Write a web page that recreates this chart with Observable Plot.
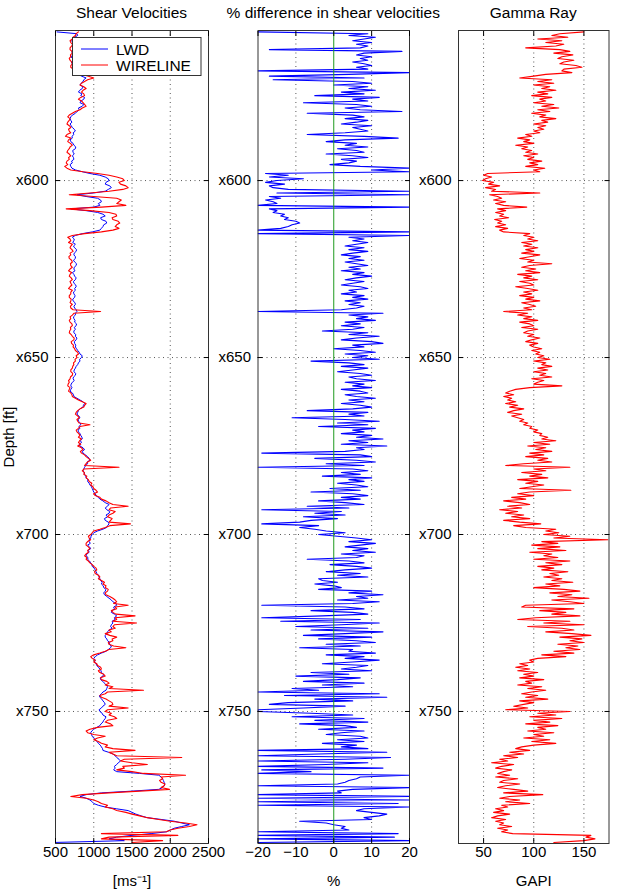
<!DOCTYPE html>
<html><head><meta charset="utf-8">
<script src="https://cdn.jsdelivr.net/npm/d3@7"></script>
<script src="https://cdn.jsdelivr.net/npm/@observablehq/plot@0.6"></script>
<style>
body{margin:0;background:#fff;}
#wrap{position:relative;width:618px;height:890px;font-family:"Liberation Sans",Arial,Helvetica,sans-serif;overflow:hidden;}
.title{position:absolute;top:4px;width:300px;height:18px;line-height:18px;font-size:15.5px;text-align:center;white-space:nowrap;color:#000;}
</style></head><body><div id="wrap"></div>
<script>
// ---------- data ----------
const depth = d3.range(558, 787.5, 0.5); // ft, 0.5 ft sampling (558 .. 787)
const titles = ["Shear Velocities", "% difference in shear velocities", "Gamma Ray"];
const seriesNames = ["LWD", "WIRELINE"];
const depthTicks = [600, 650, 700, 750];
const velTicks = [500, 1000, 1500, 2000, 2500];
const diffTicks = [-20, -10, 0, 10, 20];
const grTicks = [50, 100, 150];
const zeroLine = [0];

// LWD shear velocity (m/s)
const lwd = [
520,780,790,750,760,710,730,745,720,735,
740,715,720,735,700,725,730,705,720,745,
740,725,760,790,800,840,900,870,860,835,
820,860,850,815,800,845,830,880,870,835,
820,870,850,800,810,780,760,720,700,690,
700,715,690,705,720,745,760,730,740,715,
720,690,700,730,740,765,760,725,730,745,
720,735,740,710,720,690,700,715,760,850,
950,1080,1150,1190,1200,1160,1150,1210,1230,1190,
1150,1000,780,900,1050,1090,1100,1060,1080,1000,
700,900,1050,1120,1150,1090,1100,1160,1170,1130,
1120,1100,1080,980,850,760,720,745,740,725,
760,735,750,775,770,745,740,760,760,735,
750,775,770,745,740,755,720,740,750,770,
760,735,740,765,770,750,760,735,740,755,
750,725,730,755,760,740,750,770,780,760,
760,735,740,755,750,775,770,745,760,740,
740,765,760,780,770,745,750,765,760,775,
790,810,820,850,840,815,820,800,790,770,
760,745,740,765,760,735,730,745,720,705,
700,715,700,690,720,735,740,780,820,860,
880,865,860,820,800,790,780,805,820,795,
800,825,830,805,820,795,800,820,830,845,
850,825,840,810,820,860,880,850,860,890,
920,940,950,915,920,895,880,870,860,875,
880,895,900,925,920,940,950,970,980,990,
1000,1020,1030,1060,1080,1120,1150,1200,1180,1150,
1170,1210,1200,1160,1180,1140,1150,1190,1200,1180,
1170,1120,1050,1000,980,965,960,940,940,955,
920,945,960,930,940,910,900,925,920,945,
960,975,980,1005,1020,1030,1040,1060,1070,1080,
1090,1110,1100,1125,1130,1160,1150,1130,1140,1170,
1200,1230,1250,1290,1300,1260,1270,1240,1230,1270,
1300,1270,1280,1240,1250,1230,1220,1240,1200,1180,
1170,1150,1150,1170,1180,1210,1200,1230,1220,1190,
1160,1100,1050,1020,1000,1020,1010,1030,1040,1060,
1080,1095,1100,1130,1120,1085,1090,1120,1140,1160,
1180,1170,1160,1120,1100,1075,1080,1105,1120,1140,
1150,1120,1100,1070,1080,1110,1120,1160,1150,1130,
1120,1095,1080,1040,1000,975,960,970,980,1000,
1020,1045,1060,1085,1100,1115,1120,1190,1250,1280,
1300,1330,1350,1320,1300,1270,1280,1260,1300,1600,
1850,1880,1900,1910,1920,1930,1920,1900,1850,1500,
1100,900,820,900,950,980,1000,1060,1150,1300,
1450,1500,1550,1620,1700,1880,2050,2150,2250,2150,
2050,2000,1950,1750,1500,1300,1200,1400,500
];

// WIRELINE shear velocity (m/s)
const wireline = [
800,770,760,730,720,690,700,725,710,690,
690,715,720,695,700,680,690,710,720,700,
700,730,760,800,850,930,1000,920,880,840,
820,870,900,860,840,870,880,830,800,840,
860,880,900,850,820,760,720,680,660,690,
680,660,650,680,700,670,680,700,650,630,
700,670,660,695,720,690,680,660,650,680,
700,670,680,650,640,660,620,650,700,860,
1050,1200,1300,1380,1400,1330,1350,1420,1450,1380,
1200,950,680,1000,1300,1360,1330,1300,1420,1100,
640,950,1200,1290,1300,1240,1250,1320,1340,1300,
1280,1330,1250,1100,880,720,660,690,700,670,
720,700,690,715,730,690,700,675,680,710,
720,695,700,720,690,670,710,690,680,705,
720,690,700,715,690,670,720,700,700,680,
680,705,700,690,720,695,700,730,1090,740,
720,690,700,680,690,715,720,695,700,685,
680,705,720,745,740,705,710,735,730,750,
760,790,800,770,780,755,760,735,740,725,
720,700,700,725,720,695,690,670,680,665,
660,690,680,670,700,715,720,760,800,850,
900,880,870,820,790,770,760,790,810,780,
790,810,950,820,800,770,780,805,820,800,
840,815,800,830,790,840,860,825,840,880,
900,930,960,920,900,880,1330,870,850,880,
870,910,900,930,940,975,960,990,1000,1030,
1050,1000,1020,1080,1100,1160,1200,1250,1450,1220,
1200,1280,1250,1200,1180,1240,1220,1200,1480,1210,
1150,1080,1000,980,960,930,940,960,920,900,
900,930,950,920,930,900,880,910,900,930,
950,980,1000,1030,1040,1010,1020,1060,1080,1060,
1100,1140,1120,1160,1150,1190,1180,1150,1160,1210,
1250,1280,1300,1260,1450,1280,1300,1230,1250,1290,
1540,1280,1300,1250,1560,1270,1250,1280,1200,1230,
1150,1210,1300,1240,1250,1190,1200,1260,1420,1200,
1150,1080,1000,960,980,1020,1000,1040,1050,1090,
1100,1060,1080,1130,1150,1090,1100,1170,1200,1150,
1250,1200,1650,1180,1150,1080,1100,1160,1200,1240,
1250,1200,1450,1180,1150,1230,1200,1270,1300,1180,
1150,1220,1250,1050,950,900,920,1000,1150,1050,
1000,1060,1100,1180,1150,1250,1540,1200,1250,1300,
2150,1400,1350,1500,1700,1380,1400,1300,1500,1650,
2200,1880,1900,1860,1880,1930,1920,1880,1990,1600,
1200,850,700,900,1000,1060,1100,1180,1150,1250,
1300,1420,1500,1600,1700,1850,2000,2200,2350,2250,
2100,2000,1950,1100,2100,1200,1100,1900,1500
];

// % difference in shear velocities
const diff = [
-20,9,4,11,8,5,10,6,9,7,
-17,18,8,6,10,7,9,5,8,10,
6,9,-20,20,4,-17,8,-16,5,10,
0,9,4,11,2,8,-5,12,5,9,
-8,6,10,3,7,18,-7,5,8,3,
9,6,2,10,5,7,9,3,-7,8,
17,3,-2,6,3,9,1,6,8,-2,
5,9,2,6,4,-1,7,20,10,20,
-18,-12,-17,-8,-15,-18,-13,-17,-16,-12,
20,-15,20,-17,-14,-18,-16,-15,-20,20,
-17,-15,-16,-13,-14,-12,-13,-10,-9,-11,
-12,-14,-20,20,-20,20,4,8,5,9,
6,3,8,4,9,5,2,7,4,8,
3,6,9,4,7,2,8,5,10,6,
3,8,5,2,7,9,4,6,2,8,
5,9,3,7,4,8,6,2,-20,13,
4,9,6,11,3,7,2,8,5,-3,
9,4,12,6,2,10,13,5,8,0,
7,11,3,9,5,12,-6,4,8,2,
9,5,1,7,10,4,6,11,3,8,
5,10,2,7,9,3,6,11,4,8,
2,7,10,5,-7,9,4,8,-11,3,
12,1,9,-4,11,5,8,2,10,6,
13,4,9,2,14,6,8,3,-19,7,
10,-5,6,11,-2,8,-20,5,9,2,
7,-3,10,4,8,1,6,9,-1,7,
-6,5,9,2,7,-4,3,8,-7,4,
-19,2,-5,3,-8,1,-6,-9,-19,-4,
-9,-5,-2,3,-4,1,6,10,4,11,
7,3,9,5,11,2,8,6,-7,4,
8,-1,6,10,3,-2,7,1,9,-4,
-3,1,-5,0,2,-4,10,4,13,6,
9,1,12,5,-19,3,8,-6,5,9,
-3,-19,7,-14,12,2,-10,9,-6,13,
3,-8,10,-4,6,11,-2,7,-9,5,
4,11,-2,8,3,12,5,-3,9,6,
2,10,-6,4,-10,7,1,-8,8,-3,
5,-11,-4,-20,12,-13,14,-5,5,-12,
-17,3,-8,-20,-20,-6,5,-11,8,-5,
9,-9,3,6,-4,8,2,-2,7,9,
1,8,-3,6,2,9,-20,14,-4,-20,
15,3,-20,9,-2,-20,13,-19,-6,-20,
20,7,6,4,3,1,-20,20,5,1,
2,-20,20,-20,20,-20,17,-20,20,8,
6,10,14,12,8,10,-9,-2,0,3,
2,4,-20,17,-20,16,-20,20,-20
];

// gamma ray (GAPI)
const gamma = [
150,126,118,134,104,128,112,130,122,92,
126,136,120,139,128,124,140,130,126,142,
148,130,128,138,112,100,86,118,104,120,
100,116,108,122,104,114,98,118,106,112,
100,120,108,125,104,116,98,112,106,122,
108,114,100,112,104,110,100,106,92,98,
84,96,90,100,82,94,88,98,92,104,
90,100,94,108,96,104,92,111,100,106,
54,50,58,52,49,60,55,66,52,62,
58,106,56,64,68,60,72,62,70,93,
64,72,62,70,66,75,61,68,64,72,
62,74,66,70,96,90,100,94,104,88,
98,90,104,92,100,88,106,96,86,100,
94,118,96,88,102,92,106,84,98,90,
104,86,96,100,82,94,104,90,98,86,
100,92,106,88,96,102,90,98,70,94,
84,98,90,104,86,96,100,88,104,94,
90,100,94,106,98,92,104,96,100,108,
98,106,102,110,104,116,100,112,108,118,
104,114,100,112,106,118,98,110,104,100,
128,96,82,76,72,80,70,78,74,82,
72,84,76,90,80,74,88,78,84,90,
86,94,90,98,96,104,100,108,106,114,
108,122,100,116,94,112,102,118,96,110,
92,114,104,118,90,72,136,100,112,88,
108,96,114,84,104,92,110,98,86,137,
96,84,100,78,92,70,86,96,74,88,
66,84,72,90,78,96,70,86,107,80,
92,122,112,125,110,136,120,174,108,124,
98,126,104,132,96,118,110,124,100,136,
112,128,104,120,108,134,116,125,110,128,
118,139,112,126,100,130,146,116,138,124,
155,118,136,150,92,88,140,106,132,118,
146,102,84,136,110,150,94,128,140,112,
138,157,126,148,136,150,124,144,132,146,
120,140,108,132,104,96,100,86,94,82,
96,84,104,90,100,86,110,92,98,84,
108,94,112,98,88,104,92,114,86,100,
90,80,94,72,136,104,122,96,128,100,
116,92,124,104,112,94,120,100,110,90,
116,98,122,100,88,82,96,76,90,70,
84,66,74,58,80,68,62,78,70,64,
76,62,84,70,66,86,72,64,80,94,
70,109,76,66,86,72,96,68,74,62,
70,60,76,64,58,72,62,70,66,78,
64,74,68,79,157,152,161,150,120
];

// ---------- build ----------
const rows = depth.map((d, i) => ({depth: d, lwd: lwd[i], wireline: wireline[i], diff: diff[i], gamma: gamma[i]}));
const colors = {blue: "#0000ff", red: "#ff0000", green: "#1f9a1f"};
const font = '"Liberation Sans", Arial, Helvetica, sans-serif';
const wrap = document.getElementById("wrap");
const yDomain = [557.6, 787.3];
const fmt = d => (d < 0 ? "\u2212" + Math.abs(d) : String(d));

function makePanel({left, width, ml, mr, xDomain, xTicks, gridTicks, xLabel, yLabel, marks}) {
  const grid = {stroke: "#444", strokeOpacity: 1, strokeDasharray: "1,3.5", strokeWidth: 0.9};
  const p = Plot.plot({
    width, height: 890,
    marginTop: 30, marginBottom: 47, marginLeft: ml, marginRight: mr,
    style: {fontFamily: font, fontSize: "15px", background: "transparent", color: "#000", overflow: "visible", maxWidth: "none"},
    x: {domain: xDomain, label: null},
    y: {domain: yDomain, reverse: true, label: null},
    marks: [
      Plot.gridX(gridTicks, grid),
      Plot.gridY(depthTicks, grid),
      ...marks,
      Plot.frame({stroke: "#333", strokeWidth: 1}),
      Plot.axisX(xTicks, {anchor: "bottom", tickSize: -5, tickPadding: 8, tickFormat: fmt, label: xLabel, labelAnchor: "center", labelArrow: "none", labelOffset: 42}),
      Plot.axisX(xTicks, {anchor: "top", tickSize: -5, tickFormat: () => "", label: null}),
      Plot.axisY(depthTicks, {anchor: "left", tickSize: -5, tickPadding: 12, tickFormat: d => "x" + d, label: yLabel, labelAnchor: "center", labelArrow: "none", labelOffset: 52}),
      Plot.axisY(depthTicks, {anchor: "right", tickSize: -5, tickFormat: () => "", label: null})
    ]
  });
  p.style.position = "absolute";
  p.style.left = left + "px";
  p.style.top = "0px";
  wrap.appendChild(p);
  return (ml + (width - mr)) / 2 + left;
}

const c1 = makePanel({
  left: 0, width: 210, ml: 55, mr: 2,
  xDomain: [500, 2500], xTicks: velTicks, gridTicks: [1000, 1500, 2000],
  xLabel: "[ms⁻¹]", yLabel: "Depth [ft]",
  marks: [
    Plot.line(rows, {x: "lwd", y: "depth", stroke: colors.blue, strokeWidth: 1, clip: true}),
    Plot.line(rows, {x: "wireline", y: "depth", stroke: colors.red, strokeWidth: 1.1, clip: true})
  ]
});
const c2 = makePanel({
  left: 210, width: 200, ml: 47.5, mr: 1,
  xDomain: [-20, 20], xTicks: diffTicks, gridTicks: [-10, 10],
  xLabel: "%", yLabel: null,
  marks: [
    Plot.line(rows, {x: "diff", y: "depth", stroke: colors.blue, strokeWidth: 1.1, clip: true}),
    Plot.ruleX(zeroLine, {stroke: colors.green, strokeWidth: 1})
  ]
});
const c3 = makePanel({
  left: 410, width: 208, ml: 48, mr: 9.5,
  xDomain: [25, 175], xTicks: grTicks, gridTicks: grTicks,
  xLabel: "GAPI", yLabel: null,
  marks: [
    Plot.line(rows, {x: "gamma", y: "depth", stroke: colors.red, strokeWidth: 1.1, clip: true})
  ]
});

[c1, c2, c3].forEach((c, i) => {
  const t = document.createElement("div");
  t.className = "title";
  t.style.left = (c - 150) + "px";
  t.textContent = titles[i];
  wrap.appendChild(t);
});

// legend
const ns = "http://www.w3.org/2000/svg";
const leg = document.createElementNS(ns, "svg");
leg.setAttribute("width", 130); leg.setAttribute("height", 39);
Object.assign(leg.style, {position: "absolute", left: "72px", top: "36.5px", fontFamily: font, fontSize: "15.5px"});
const box = document.createElementNS(ns, "rect");
Object.entries({x: 0.5, y: 0.5, width: 128.5, height: 38, fill: "#fff", stroke: "#333"}).forEach(([k, v]) => box.setAttribute(k, v));
leg.appendChild(box);
[colors.blue, colors.red].forEach((col, i) => {
  const y = 12 + i * 16;
  const ln = document.createElementNS(ns, "line");
  Object.entries({x1: 9, x2: 36, y1: y, y2: y, stroke: col, "stroke-width": 1}).forEach(([k, v]) => ln.setAttribute(k, v));
  leg.appendChild(ln);
  const tx = document.createElementNS(ns, "text");
  Object.entries({x: 44, y: y + 5.5}).forEach(([k, v]) => tx.setAttribute(k, v));
  tx.textContent = seriesNames[i];
  leg.appendChild(tx);
});
wrap.appendChild(leg);
</script></body></html>
